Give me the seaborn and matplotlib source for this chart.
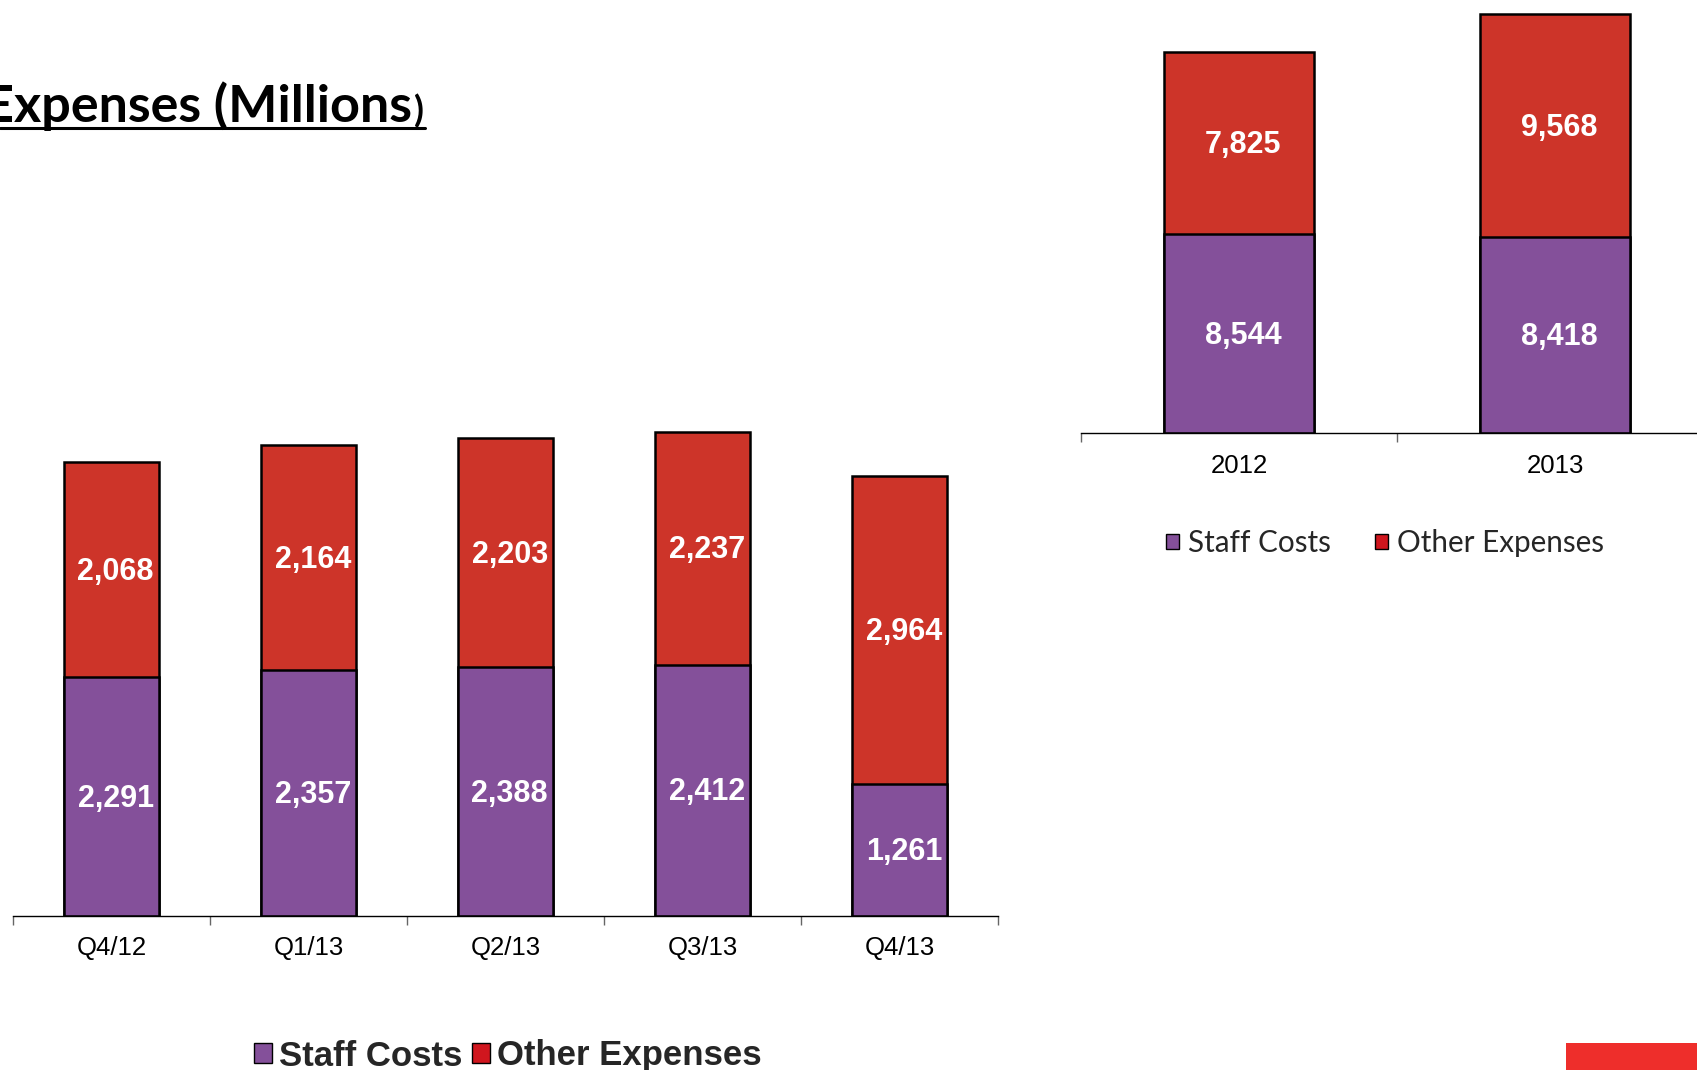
import numpy as np
import matplotlib
matplotlib.use("Agg")
import matplotlib.pyplot as plt
from matplotlib.patches import Patch, Rectangle
from matplotlib.lines import Line2D
import matplotlib.transforms as mtransforms
import seaborn as sns

# data
quarters = ["Q4/12", "Q1/13", "Q2/13", "Q3/13", "Q4/13"]
staff_q = [2291, 2357, 2388, 2412, 1261]
other_q = [2068, 2164, 2203, 2237, 2964]

years = ["2012", "2013"]
staff_y = [8544, 8418]
other_y = [7825, 9568]

purple = "#84509A"
red = "#CD3429"

sns.set_theme(style="white")
plt.rcParams["font.family"] = ["Liberation Sans", "DejaVu Sans"]

fig = plt.figure(figsize=(16.97, 10.70), dpi=100)


def stacked(ax, cats, staff, other, width, ymax):
    totals = [s + o for s, o in zip(staff, other)]
    sns.barplot(x=cats, y=totals, color=red, saturation=1, width=width,
                edgecolor="black", linewidth=1.8, ax=ax)
    sns.barplot(x=cats, y=staff, color=purple, saturation=1, width=width,
                edgecolor="black", linewidth=1.8, ax=ax)
    # labels sit a touch right/low of centre, like the original
    shift = mtransforms.offset_copy(ax.transData, fig=fig, x=3, y=-1.5, units="points")
    for i, (s, o) in enumerate(zip(staff, other)):
        ax.text(i, s / 2, f"{s:,}", ha="center", va="center", color="white",
                fontsize=22, fontweight="bold", transform=shift)
        ax.text(i, s + o / 2, f"{o:,}", ha="center", va="center", color="white",
                fontsize=22, fontweight="bold", transform=shift)
    ax.set_xlim(-0.5, len(cats) - 0.5)
    ax.set_ylim(0, ymax)
    ax.set_yticks([])
    ax.set_xticks(np.arange(-0.5, len(cats), 1), minor=True)
    ax.tick_params(axis="x", which="minor", length=6.5, width=1, color="#666666", bottom=True)
    ax.tick_params(axis="x", which="major", length=0, pad=15, labelsize=18.5, labelcolor="black")
    for side in ["left", "top", "right"]:
        ax.spines[side].set_visible(False)
    ax.spines["bottom"].set_color("black")
    ax.spines["bottom"].set_linewidth(1)
    ax.set_xlabel("")
    ax.set_ylabel("")
    ax.patch.set_alpha(0)


ax1 = fig.add_axes([0.0077, 0.1443, 0.5805, 0.486])
stacked(ax1, quarters, staff_q, other_q, 0.48, 5000)

ax2 = fig.add_axes([0.6371, 0.5954, 0.3724, 0.4023])
stacked(ax2, years, staff_y, other_y, 0.476, 18500)

# title (cut off at the left edge)
fig.text(412 / 1697, 1 - 122 / 1070, "Expenses (Millions", ha="right", va="baseline",
         fontsize=37.5, fontweight="bold", family=["Lato", "DejaVu Sans"], color="black")
fig.text(414 / 1697, 1 - 122 / 1070, ")", ha="left", va="baseline",
         fontsize=26, fontweight="bold", family=["Lato", "DejaVu Sans"], color="black")
fig.add_artist(Line2D([0, 425 / 1697], [1 - 128 / 1070] * 2, color="black", lw=2.2,
                      transform=fig.transFigure))

# legends
handles = [Patch(facecolor=purple, edgecolor="black", linewidth=1),
           Patch(facecolor="#D0161E", edgecolor="black", linewidth=1)]
names = ["Staff Costs", "Other Expenses"]

fig.legend(handles, names, loc="center", bbox_to_anchor=(508 / 1697, 1 - 1056 / 1070),
           ncol=2, frameon=False, prop={"family": "Liberation Sans", "weight": "bold", "size": 25},
           handlelength=0.5, handleheight=0.5, handletextpad=0.22, columnspacing=0.28,
           borderpad=0, borderaxespad=0)

fig.legend(handles, names, loc="center", bbox_to_anchor=(1385 / 1697, 1 - 543 / 1070),
           ncol=2, frameon=False, prop={"family": "Lato", "size": 21.3},
           handlelength=0.45, handleheight=0.45, handletextpad=0.3, columnspacing=1.5,
           borderpad=0, borderaxespad=0)

# red strip bottom right
fig.add_artist(Rectangle((1566 / 1697, 0), 131 / 1697, 27 / 1070, facecolor="#EE2E2B",
                         edgecolor="none", transform=fig.transFigure))

fig.savefig("out.png", dpi=100)
